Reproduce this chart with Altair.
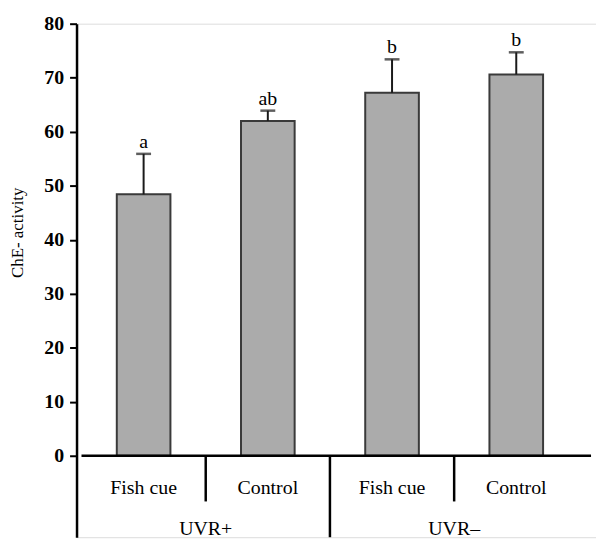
import altair as alt
import numpy as np
import pandas as pd

# ---- data ----
groups = ["UVR+", "UVR+", "UVR–", "UVR–"]
treatments = ["Fish cue", "Control", "Fish cue", "Control"]
means = [48.4, 62.0, 67.2, 70.6]
errors = [7.5, 1.9, 6.2, 4.1]
letters = ["a", "ab", "b", "b"]
y_ticks = [0, 10, 20, 30, 40, 50, 60, 70, 80]
y_title = "ChE- activity"

# ---- layout ----
FONT = "Liberation Serif"
WIDTH, HEIGHT = 523, 517
PX_PER_UNIT = 435 / 80.0
STEP = 127.5
XMAX = WIDTH / STEP
YMAX = 80
YMIN = YMAX - HEIGHT / PX_PER_UNIT
INNER_SEP_BOTTOM = -46 / PX_PER_UNIT
TREAT_LABEL_Y = -32 / PX_PER_UNIT
GROUP_LABEL_Y = -74 / PX_PER_UNIT

n = len(treatments)
df = pd.DataFrame({
    "pos": np.arange(n) + 0.5,
    "group": groups,
    "treatment": treatments,
    "mean": means,
    "err": errors,
    "letter": letters,
})
df["top"] = df["mean"] + df["err"]
df["label_y"] = TREAT_LABEL_Y

grp = df.groupby("group", sort=False)["pos"].mean().reset_index()
grp["label_y"] = GROUP_LABEL_Y

# separators between treatments (short) and between groups (long)
bounds = np.arange(1, n)
sep = pd.DataFrame({"b": bounds.astype(float)})
sep["is_group"] = [groups[i - 1] != groups[i] for i in bounds]
sep["bottom"] = np.where(sep["is_group"], YMIN, INNER_SEP_BOTTOM)
sep["zero"] = 0.0

zl = pd.DataFrame({"x0": [0.0], "x1": [XMAX], "y0": [0.0]})

xs = alt.Scale(domain=[0, XMAX], nice=False, zero=False)
ys = alt.Scale(domain=[YMIN, YMAX], nice=False, zero=False)

yaxis = alt.Axis(
    values=y_ticks, grid=False, title=y_title,
    domainColor="black", domainWidth=2.5,
    tickColor="black", tickWidth=2, tickSize=7,
    labelFont=FONT, labelFontWeight="bold", labelFontSize=20,
    labelColor="black", labelPadding=6,
    titleFont=FONT, titleFontWeight="normal", titleFontSize=17,
    titleColor="black", titleX=-59, titleY=210, titleAngle=270,
    titleAlign="center", titleBaseline="middle",
)

def Y(field):
    return alt.Y(field, scale=ys, axis=yaxis, title=y_title)

def X(field):
    return alt.X(field, scale=xs, axis=None)

base = alt.Chart(df)

bars = base.mark_bar(size=54, fill="#ababab", stroke="#3a3a3a", strokeWidth=2).encode(
    x=X("pos:Q"), y=Y("mean:Q"),
)

err_rule = base.mark_rule(color="#1a1a1a", strokeWidth=2).encode(
    x=X("pos:Q"), y=Y("mean:Q"), y2="top:Q",
)

caps = base.mark_tick(orient="horizontal", size=15, thickness=2.5, color="#1a1a1a").encode(
    x=X("pos:Q"), y=Y("top:Q"),
)

sig = base.mark_text(font=FONT, fontSize=20, dy=-6, baseline="alphabetic", color="black").encode(
    x=X("pos:Q"), y=Y("top:Q"), text="letter:N",
)

zero_line = alt.Chart(zl).mark_rule(color="black", strokeWidth=2.5).encode(
    x=X("x0:Q"), x2="x1:Q", y=Y("y0:Q"),
)

seps = alt.Chart(sep).mark_rule(color="black", strokeWidth=2.5).encode(
    x=X("b:Q"), y=Y("zero:Q"), y2="bottom:Q",
)

treat_text = base.mark_text(font=FONT, fontSize=20, baseline="middle", color="black").encode(
    x=X("pos:Q"), y=Y("label_y:Q"), text="treatment:N",
)

group_text = alt.Chart(grp).mark_text(font=FONT, fontSize=20, baseline="middle", color="black").encode(
    x=X("pos:Q"), y=Y("label_y:Q"), text="group:N",
)

chart = alt.layer(
    bars, err_rule, caps, sig, zero_line, seps, treat_text, group_text
).properties(
    width=WIDTH, height=HEIGHT,
    autosize=alt.AutoSizeParams(type="none"),
    padding={"left": 69, "top": 14, "right": 0, "bottom": 0},
).configure_view(strokeWidth=0, stroke="transparent").configure(background="white")

chart.save("out.html", embed_options={"renderer": "svg", "actions": False})
